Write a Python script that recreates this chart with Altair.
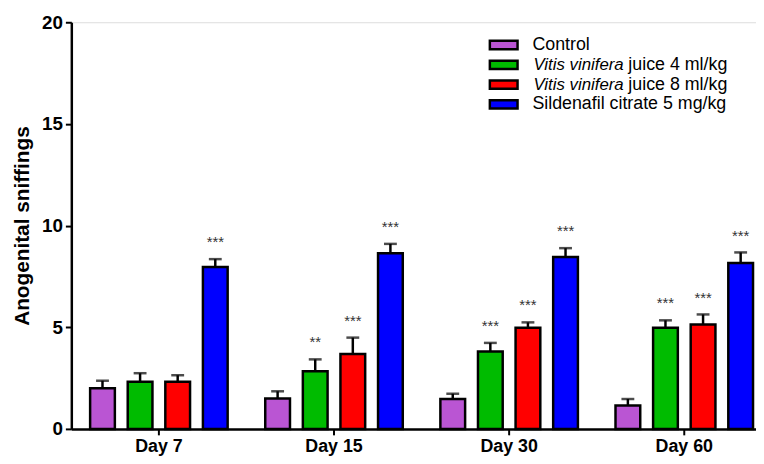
import altair as alt
import pandas as pd

days = ["Day 7", "Day 15", "Day 30", "Day 60"]
series = ["Control", "Vitis vinifera juice 4 ml/kg", "Vitis vinifera juice 8 ml/kg", "Sildenafil citrate 5 mg/kg"]
colors = ["#BA55D3", "#00BB00", "#FF0000", "#0000FF"]

# mean values per series (across days)
control = [2.0, 1.5, 1.47, 1.15]
vitis4 = [2.32, 2.84, 3.81, 4.98]
vitis8 = [2.32, 3.68, 4.98, 5.14]
sildenafil = [7.96, 8.64, 8.45, 8.16]
# SEM per series
control_sem = [0.37, 0.35, 0.26, 0.32]
vitis4_sem = [0.42, 0.58, 0.42, 0.36]
vitis8_sem = [0.32, 0.81, 0.26, 0.49]
sildenafil_sem = [0.39, 0.46, 0.44, 0.52]
# significance marks
control_sig = ["", "", "", ""]
vitis4_sig = ["", "**", "***", "***"]
vitis8_sig = ["", "***", "***", "***"]
sildenafil_sig = ["***", "***", "***", "***"]

legend_italic = ["", "Vitis vinifera", "Vitis vinifera", ""]
legend_plain = ["Control", "juice 4 ml/kg", "juice 8 ml/kg", "Sildenafil citrate 5 mg/kg"]

rows = []
for s, vals, sems, sigs in zip(series,
                               [control, vitis4, vitis8, sildenafil],
                               [control_sem, vitis4_sem, vitis8_sem, sildenafil_sem],
                               [control_sig, vitis4_sig, vitis8_sig, sildenafil_sig]):
    for d, v, e, g in zip(days, vals, sems, sigs):
        rows.append({"day": d, "series": s, "value": v, "upper": v + e, "sig": g})
df = pd.DataFrame(rows)
leg = pd.DataFrame({"series": series, "italic": legend_italic, "plain": legend_plain})

FONT = "Liberation Sans"

x = alt.X("day:N", sort=days, title=None,
          scale=alt.Scale(domain=days, range=[0, 708], paddingInner=0, paddingOuter=0),
          axis=alt.Axis(labelAngle=0, labelFont=FONT, labelFontSize=18, labelFontWeight="bold",
                        labelColor="black", domainColor="black", domainWidth=2.5,
                        tickColor="black", tickWidth=2, tickSize=6, labelPadding=3))
xo = alt.XOffset("series:N", sort=series,
                 scale=alt.Scale(domain=series, paddingInner=0.342, paddingOuter=0.5))
y = alt.Y("value:Q", title="Anogenital sniffings",
          scale=alt.Scale(domain=[0, 20], nice=False),
          axis=alt.Axis(values=[0, 5, 10, 15, 20], grid=False, labelFont=FONT, labelFontSize=19,
                        labelFontWeight="bold", labelColor="black", domainColor="black",
                        domainWidth=2.5, tickColor="black", tickWidth=2, tickSize=6,
                        titleFont=FONT, titleFontSize=21, titleFontWeight="bold",
                        titleColor="black", titlePadding=9, labelPadding=3))
color = alt.Color("series:N", sort=series, scale=alt.Scale(domain=series, range=colors), legend=None)

bars = alt.Chart(df).mark_bar(stroke="black", strokeWidth=2.5).encode(x=x, xOffset=xo, y=y, color=color)
err = alt.Chart(df).mark_rule(color="black", strokeWidth=2.5).encode(
    x=x, xOffset=xo, y="value:Q", y2="upper:Q")
cap = alt.Chart(df).mark_tick(color="black", thickness=2.5, size=13, orient="horizontal").encode(
    x=x, xOffset=xo, y="upper:Q")
stars = alt.Chart(df).mark_text(font=FONT, fontSize=15, color="#333333", dy=-12,
                                baseline="alphabetic").encode(
    x=x, xOffset=xo, y="upper:Q", text="sig:N")

main = alt.layer(bars, err, cap, stars)

ly = alt.Y("series:N", sort=series, axis=None,
           scale=alt.Scale(domain=series, range=[23, 83], padding=0))
sw = alt.Chart(leg).mark_point(shape="M-1,-0.3L1,-0.3L1,0.3L-1,0.3Z", size=784, filled=True,
                               stroke="black", strokeWidth=2.5, opacity=1).encode(
    x=alt.value(437), y=ly, fill=alt.Fill("series:N", sort=series,
                                          scale=alt.Scale(domain=series, range=colors), legend=None))
t1 = alt.Chart(leg).mark_text(font=FONT, fontSize=17, fontStyle="italic", align="left",
                              baseline="middle", color="black").encode(
    x=alt.value(467), y=ly, text="italic:N")
t2a = alt.Chart(leg).transform_filter("datum.italic != ''").mark_text(
    font=FONT, fontSize=18, align="left", baseline="middle", color="black").encode(
    x=alt.value(563), y=ly, text="plain:N")
t2b = alt.Chart(leg).transform_filter("datum.italic == ''").mark_text(
    font=FONT, fontSize=18, align="left", baseline="middle", color="black").encode(
    x=alt.value(466), y=ly, text="plain:N")
legend = alt.layer(sw, t1, t2a, t2b)

chart = alt.layer(main, legend).resolve_scale(y="independent", color="independent", fill="independent").properties(
    width=692, height=411,
    autosize=alt.AutoSizeParams(type="none"),
    padding={"left": 64, "top": 12, "right": 0, "bottom": 28},
).configure_view(stroke=None).configure(background="white")

chart.save("out.html", embed_options={"renderer": "svg", "actions": False})
